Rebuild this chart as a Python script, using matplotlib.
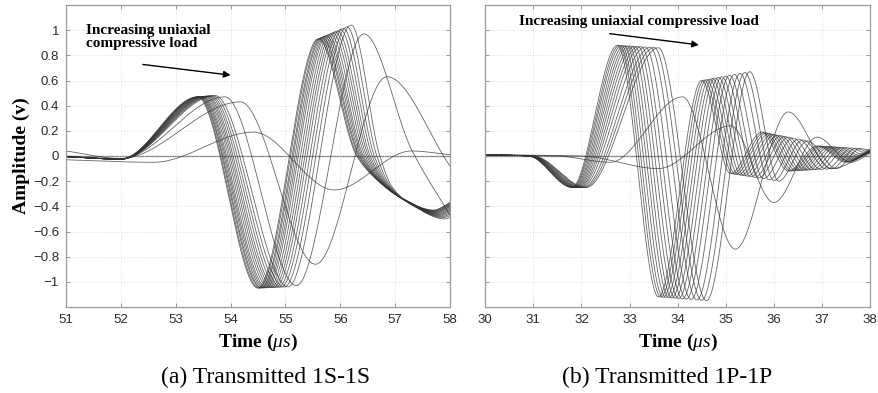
import numpy as np
import matplotlib
matplotlib.use("Agg")
import matplotlib.pyplot as plt

plt.rcParams["mathtext.fontset"] = "custom"
plt.rcParams["mathtext.it"] = "Liberation Serif:italic"
plt.rcParams["mathtext.rm"] = "Liberation Serif"

# ---------------- waveform data (time in us, amplitude in V) ----------------
# (a) 1S-1S: knots of the earliest and latest traces of the main bundle
s_early_t = [51.0, 52.0, 53.40, 54.50, 55.60, 56.30, 56.67, 57.10, 57.70, 58.0]
s_early_v = [-0.005, -0.025, 0.47, -1.05, 0.93, 0.00, -0.19, -0.33, -0.43, -0.37]
s_late_t = [51.0, 52.0, 53.72, 55.05, 56.20, 56.72, 56.95, 57.35, 57.90, 58.0]
s_late_v = [-0.005, -0.025, 0.48, -1.04, 1.04, 0.00, -0.25, -0.40, -0.50, -0.49]
# first-trough time of every trace in the bundle
s_trough_times = [54.50, 54.52, 54.55, 54.57, 54.60, 54.63, 54.66, 54.70,
                  54.74, 54.78, 54.82, 54.87, 54.92, 54.98, 55.05]
# traces at the highest loads
s_extra = [
    ([51.0, 52.0, 53.90, 55.20, 56.43, 57.30, 58.0],
     [0.0, -0.02, 0.47, -1.03, 0.97, 0.05, -0.47]),
    ([51.0, 52.0, 54.18, 55.55, 56.85, 58.0],
     [0.04, -0.02, 0.43, -0.86, 0.63, -0.08]),
    ([51.0, 52.6, 54.42, 55.89, 57.30, 58.0],
     [-0.03, -0.05, 0.19, -0.27, 0.04, 0.01]),
]

# (b) 1P-1P
p_early_t = [30.0, 30.9, 31.80, 32.75, 33.60, 34.50, 35.10, 35.75, 36.30, 36.90, 37.50, 38.0]
p_early_v = [0.01, 0.00, -0.25, 0.88, -1.12, 0.60, -0.14, 0.19, -0.12, 0.08, -0.05, 0.03]
p_late_t = [30.0, 31.0, 32.10, 33.60, 34.60, 35.50, 36.10, 36.70, 37.30, 37.80, 37.95, 38.0]
p_late_v = [0.01, 0.00, -0.25, 0.86, -1.15, 0.67, -0.20, 0.12, -0.10, 0.06, 0.05, 0.05]
p_trough_times = [33.60, 33.65, 33.70, 33.76, 33.82, 33.88, 33.95, 34.02,
                  34.10, 34.18, 34.28, 34.40, 34.50, 34.60]
p_extra = [
    ([30.0, 31.5, 32.60, 34.10, 35.20, 36.30, 37.20, 38.0],
     [0.01, 0.00, -0.05, 0.47, -0.74, 0.35, -0.10, 0.03]),
    ([30.0, 32.0, 33.60, 35.10, 36.00, 36.90, 37.60, 38.0],
     [0.01, 0.00, -0.10, 0.24, -0.37, 0.15, -0.05, 0.02]),
]

s_xticks = [51, 52, 53, 54, 55, 56, 57, 58]
p_xticks = [30, 31, 32, 33, 34, 35, 36, 37, 38]
yticks = [-1, -0.8, -0.6, -0.4, -0.2, 0, 0.2, 0.4, 0.6, 0.8, 1]
ytick_labels = ["\u22121", "\u22120.8", "\u22120.6", "\u22120.4", "\u22120.2", "0",
                "0.2", "0.4", "0.6", "0.8", "1"]


def pchip(x, y, xq):
    """Shape-preserving piecewise cubic Hermite curve through the knots."""
    x = np.asarray(x, float)
    y = np.asarray(y, float)
    h = np.diff(x)
    d = np.diff(y) / h
    m = np.zeros_like(y)
    for k in range(1, len(x) - 1):
        if d[k - 1] * d[k] > 0:
            w1 = 2 * h[k] + h[k - 1]
            w2 = h[k] + 2 * h[k - 1]
            m[k] = (w1 + w2) / (w1 / d[k - 1] + w2 / d[k])
    m[0] = d[0]
    m[-1] = d[-1]
    idx = np.clip(np.searchsorted(x, xq) - 1, 0, len(x) - 2)
    s = (xq - x[idx]) / h[idx]
    h00 = 2 * s**3 - 3 * s**2 + 1
    h10 = s**3 - 2 * s**2 + s
    h01 = -2 * s**3 + 3 * s**2
    h11 = s**3 - s**2
    return h00 * y[idx] + h10 * h[idx] * m[idx] + h01 * y[idx + 1] + h11 * h[idx] * m[idx + 1]


def bundle(early_t, early_v, late_t, late_v, troughs, trough_index):
    a0 = early_t[trough_index]
    a1 = late_t[trough_index]
    out = []
    for tt in troughs:
        w = (tt - a0) / (a1 - a0)
        kt = [(1 - w) * a + w * b for a, b in zip(early_t, late_t)]
        kv = [(1 - w) * a + w * b for a, b in zip(early_v, late_v)]
        out.append((kt, kv))
    return out


serif = "Liberation Serif"
sans = "Liberation Sans"

fig = plt.figure(figsize=(8.79, 3.93), dpi=100)
ax1 = fig.add_axes([66 / 879, 1 - 307 / 393, (450 - 66) / 879, 302 / 393])
ax2 = fig.add_axes([485.3 / 879, 1 - 307 / 393, (870 - 485.3) / 879, 302 / 393])

panels = [
    (ax1, (51, 58), s_xticks,
     bundle(s_early_t, s_early_v, s_late_t, s_late_v, s_trough_times, 3) + s_extra),
    (ax2, (30, 38), p_xticks,
     bundle(p_early_t, p_early_v, p_late_t, p_late_v, p_trough_times, 4) + p_extra),
]

for ax, xlim, xt, traces in panels:
    ax.axhline(0, color="#777777", lw=0.9, zorder=1)
    for kt, kv in traces:
        tq = np.linspace(kt[0], kt[-1], 600)
        ax.plot(tq, pchip(kt, kv, tq), color="#333333", lw=0.6, alpha=0.75, zorder=2)
    ax.set_xlim(*xlim)
    ax.set_ylim(-1.2, 1.2)
    ax.set_xticks(xt)
    ax.set_yticks(yticks)
    ax.grid(True, color="#d4d4d4", lw=0.6, linestyle=(0, (1, 2)))
    ax.tick_params(direction="in", length=3, width=0.6, top=True, right=True,
                   colors="#888888", labelcolor="#2a2a2a", labelsize=9.5, pad=5)
    for lab in ax.get_xticklabels() + ax.get_yticklabels():
        lab.set_fontfamily(sans)
    for sp in ax.spines.values():
        sp.set_color("#9a9a9a")
        sp.set_linewidth(0.9)
    ax.set_xlabel("Time ($\\mathit{\u03bcs}$)", fontfamily=serif, fontweight="bold",
                  fontsize=14, labelpad=4)

ax1.set_yticklabels(ytick_labels)
ax2.set_yticklabels([])
ax1.set_ylabel("Amplitude (v)", fontfamily=serif, fontweight="bold", fontsize=14,
               labelpad=2)

# annotations
ax1.text(51.37, 1.05, "Increasing uniaxial\ncompressive load", fontfamily=serif,
         fontweight="bold", fontsize=11, va="top", ha="left", linespacing=1.05)
ax1.annotate("", xy=(54.05, 0.64), xytext=(52.35, 0.73),
             arrowprops=dict(arrowstyle="-|>", color="black", lw=1.0,
                             mutation_scale=10))
ax2.text(30.7, 1.065, "Increasing uniaxial compressive load", fontfamily=serif,
         fontweight="bold", fontsize=11, va="center", ha="left")
ax2.annotate("", xy=(34.5, 0.88), xytext=(32.53, 0.975),
             arrowprops=dict(arrowstyle="-|>", color="black", lw=1.0,
                             mutation_scale=10))

fig.text(266 / 879, 1 - 377 / 393, "(a) Transmitted 1S-1S", fontfamily=serif,
         fontsize=17, ha="center", va="center")
fig.text(667 / 879, 1 - 377 / 393, "(b) Transmitted 1P-1P", fontfamily=serif,
         fontsize=17, ha="center", va="center")

fig.savefig("out.png", dpi=100)
